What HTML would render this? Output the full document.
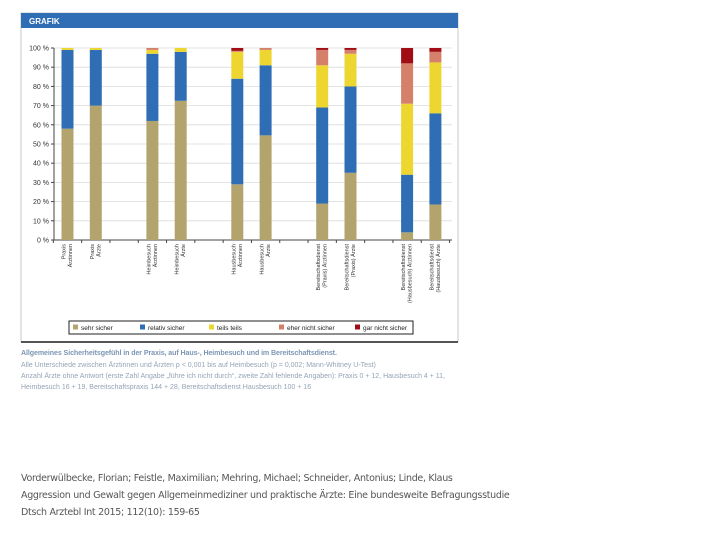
<!DOCTYPE html>
<html><head><meta charset="utf-8"><style>
body{margin:0;width:720px;height:540px;background:#fff;overflow:hidden;font-family:"Liberation Sans",sans-serif}
.foot{position:absolute;left:21px;font-size:9.5px;color:#555;font-family:"DejaVu Sans","Liberation Sans",sans-serif;letter-spacing:-0.3px}
</style></head><body>
<svg width="720" height="540" style="position:absolute;left:0;top:0">
<rect x="21" y="13" width="437" height="329" fill="#fff" stroke="#c8c8c8" stroke-width="1"/>
<line x1="21" y1="342" x2="458" y2="342" stroke="#555" stroke-width="2"/>
<rect x="21" y="13" width="437" height="15" fill="#2f6eb5"/>
<text x="29" y="24" font-size="8" font-weight="bold" fill="#fff">GRAFIK</text>
<g id="chart"></g>
<rect x="69" y="321" width="344" height="13" fill="#fff" stroke="#222" stroke-width="1"/>
<g id="legend"></g>
<text x="21" y="355" font-size="7.1" font-weight="bold" fill="#7d96b4" letter-spacing="-0.1">Allgemeines Sicherheitsgefühl in der Praxis, auf Haus-, Heimbesuch und im Bereitschaftsdienst.</text>
<text x="21" y="367" font-size="7" fill="#95a4b6">Alle Unterschiede zwischen Ärztinnen und Ärzten p &lt; 0,001 bis auf Heimbesuch (p = 0,002; Mann-Whitney U-Test)</text>
<text x="21" y="378" font-size="7" fill="#95a4b6">Anzahl Ärzte ohne Antwort (erste Zahl Angabe „führe ich nicht durch“, zweite Zahl fehlende Angaben): Praxis 0 + 12, Hausbesuch 4 + 11,</text>
<text x="21" y="389" font-size="7" fill="#95a4b6">Heimbesuch 16 + 19, Bereitschaftspraxis 144 + 28, Bereitschaftsdienst Hausbesuch 100 + 16</text>
</svg>
<div class="foot" style="top:473px">Vorderwülbecke, Florian; Feistle, Maximilian; Mehring, Michael; Schneider, Antonius; Linde, Klaus</div>
<div class="foot" style="top:490px">Aggression und Gewalt gegen Allgemeinmediziner und praktische Ärzte: Eine bundesweite Befragungsstudie</div>
<div class="foot" style="top:507px">Dtsch Arztebl Int 2015; 112(10): 159-65</div>
<script>
const categories=[["Praxis","Ärztinnen"],["Praxis","Ärzte"],["Heimbesuch","Ärztinnen"],["Heimbesuch","Ärzte"],["Hausbesuch","Ärztinnen"],["Hausbesuch","Ärzte"],["Bereitschaftsdienst","(Praxis) Ärztinnen"],["Bereitschaftsdienst","(Praxis) Ärzte"],["Bereitschaftsdienst","(Hausbesuch) Ärztinnen"],["Bereitschaftsdienst","(Hausbesuch) Ärzte"]];
const slots=[0,1,3,4,6,7,9,10,12,13];
const sehrSicher=[58,70,62,72.5,29,54.5,19,35,4,18.5];
const relativSicher=[41,29,35,25.5,55,36.5,50,45,30,47.5];
const teilsTeils=[1,1,2,2,14,8,22,17,37,26.5];
const eherNicht=[0,0,1,0,0.5,1,8,2,21,5.5];
const garNicht=[0,0,0,0,1.5,0,1,1,8,2];
const seriesNames=["sehr sicher","relativ sicher","teils teils","eher nicht sicher","gar nicht sicher"];
const yTicks=[0,10,20,30,40,50,60,70,80,90,100];
const series=[sehrSicher,relativSicher,teilsTeils,eherNicht,garNicht];
const colors=["#b3a46e","#2f6db5","#eed630","#d4806a","#a00d14"];
const NS="http://www.w3.org/2000/svg";
const g=document.getElementById("chart");
const y=v=>240-v*1.92;
const x=s=>67.5+s*28.3;
function mk(t,a){const e=document.createElementNS(NS,t);for(const k in a)e.setAttribute(k,a[k]);return e;}
yTicks.forEach(t=>{
 if(t>0){const l=mk("line",{x1:54,x2:452,y1:y(t),y2:y(t),stroke:"#dcdcdc","stroke-width":0.8});
 
 g.appendChild(l);}
 const tk=mk("line",{x1:51,x2:54,y1:y(t),y2:y(t),stroke:"#444"});
 
 g.appendChild(tk);
 const tx=mk("text",{x:49,y:y(t)+2.5,"font-size":7,"text-anchor":"end",fill:"#333"});tx.textContent=t+" %";
 
 g.appendChild(tx);
});
const ax=mk("line",{x1:54,x2:54,y1:y(100),y2:240,stroke:"#444"});

g.appendChild(ax);
const xa=mk("line",{x1:54,x2:452,y1:240,y2:240,stroke:"#444"});

g.appendChild(xa);
for(let s=0;s<=14;s++){const t=mk("line",{x1:x(s)-14.15,x2:x(s)-14.15,y1:240,y2:243,stroke:"#444"});
 
 g.appendChild(t);}
categories.forEach((c,i)=>{
 let cum=0;const cx=x(slots[i]);
 series.forEach((sv,k)=>{const v=sv[i];if(v<=0)return;
  const r=mk("rect",{x:cx-6,y:y(cum+v),width:12,height:v*1.92,fill:colors[k]});
  
  g.appendChild(r);cum+=v;});
 c.forEach((line,j)=>{
  const lx=cx-2+j*6.5;
  const t=mk("text",{x:lx,y:244,"font-size":5.5,"text-anchor":"end",fill:"#333",transform:`rotate(-90 ${lx} 244)`});
  t.textContent=line;
  
  g.appendChild(t);});
});
const lg=document.getElementById("legend");
const lx=[73,140,209,279,355];
seriesNames.forEach((n,k)=>{
 const r=mk("rect",{x:lx[k],y:324.5,width:5,height:5,fill:colors[k]});
 
 lg.appendChild(r);
 const t=mk("text",{x:lx[k]+8,y:330,"font-size":6.5,fill:"#222"});t.textContent=n;
 
 lg.appendChild(t);
});
</script>
</body></html>
